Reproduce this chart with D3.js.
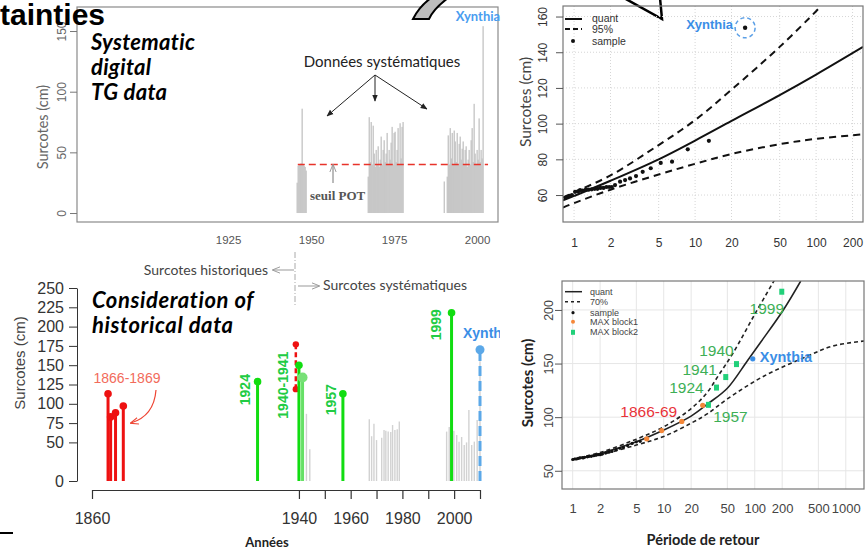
<!DOCTYPE html>
<html>
<head>
<meta charset="utf-8">
<script src="https://cdn.jsdelivr.net/npm/d3@7"></script>
<style>
  body { margin: 0; background: #fff; }
  svg text { font-family: "Liberation Sans", Arial, sans-serif; }
  .cal { font-family: Lato, "Open Sans", sans-serif; }
  .narrow { font-family: "Liberation Sans Narrow", "Liberation Sans", Arial, sans-serif; }
  .serif { font-family: "Liberation Serif", "DejaVu Serif", serif; }
</style>
</head>
<body>
<div id="fig"></div>
<script>
// ---------- data ----------
// panel A : systematic POT surges (one value per column, POT_STEP years apart)
const POT_START = [1945.8, 1967.2, 1990.1];
const POT_STEP = 0.3;
const POT_BLOCK1 = [25, 39, 40, 40, 41, 86, 40, 39, 38, 35];
const POT_BLOCK2 = [30, 79, 42, 75, 40, 72, 49, 38, 52, 40, 55, 38, 44, 63, 40, 52, 60, 42,
                    49, 66, 40, 52, 44, 58, 71, 40, 66, 67, 42, 52, 70, 40, 74, 45, 71, 75];
const POT_BLOCK3 = [26, 0, 0, 30, 64, 40, 70, 45, 66, 40, 68, 59, 42, 66, 40, 57, 63, 44, 53, 59,
                    40, 52, 55, 38, 44, 52, 40, 60, 70, 42, 90, 49, 40, 52, 44, 78, 42, 52, 45, 154];
const POT_THRESHOLD = 40;
const THRESHOLD_YEARS = [1946.0, 2003.3];
const A_XTICKS = [1925, 1950, 1975, 2000];
const A_YTICKS = [0, 50, 100, 150];

// panel B : return level plot, systematic data only
const B_QUANT_T = [0.81, 1, 2, 5, 10, 20, 50, 100, 244];
const B_QUANT = [57, 59.5, 68, 80, 90.5, 101.5, 116, 127.5, 143];
const B_UP_T = [0.81, 1, 2, 5, 10, 20, 50, 100, 110];
const B_UP = [58.5, 61.5, 71, 88, 102, 119, 143, 163, 166];
const B_LOW_T = [0.81, 1, 2, 5, 10, 20, 50, 100, 244];
const B_LOW = [53, 55.5, 63, 71.5, 77.5, 83, 88.5, 91.5, 94];
const B_SAMPLE_T = [0.85, 0.88, 0.92, 0.96, 1.02, 1.08, 1.12, 1.18, 1.25, 1.32, 1.4, 1.48, 1.56,
                    1.65, 1.75, 1.85, 1.95, 2.05, 2.18, 2.4, 2.64, 2.9, 3.25, 3.69, 4.3, 5.2, 6.45, 8.7, 13];
const B_SAMPLE = [58.5, 59, 59.5, 60, 61.8, 62, 62.8, 62.5, 63, 63, 63.2, 63.5, 63.5,
                  64, 64, 64.5, 64.5, 64.5, 65.6, 67.5, 68.4, 69.3, 70.6, 73, 75, 78, 78.7, 85.6, 90.4];
const B_XYNTHIA = [25.9, 153.7];
const B_XTICKS = [1, 2, 5, 10, 20, 50, 100, 200];
const B_YTICKS = [60, 80, 100, 120, 140, 160];
const B_LEGEND = ["quant", "95%", "sample"];

// panel C : historical + systematic annual maxima
const HIST_YEARS = [1866.2, 1867.2, 1869.1, 1872.1];
const HIST_VALUES = [113, 83, 88.5, 97];
const HIST_1940_YEAR = 1938.8;
const HIST_1940_RANGE = [119, 177];
const SYS_YEARS = [1924, 1940, 1941.4, 1957, 1999];
const SYS_VALUES = [128.7, 150, 134, 113, 218];
const SYS_LABELS = ["1924", "1940-1941", "", "1957", "1999"];
const XYN_YEAR = 2010;
const XYN_VALUE = 170;
const C_GRAY_YEARS = [1942.9, 1944.2, 1967.2, 1968.1, 1969.0, 1970.0, 1972.0, 1972.9, 1973.6, 1974.5,
                      1975.5, 1976.2, 1977.1, 1978.0, 1978.8, 1997.1, 1998.1, 1999.9, 2001.0, 2001.9,
                      2002.9, 2003.9, 2004.8, 2005.7, 2006.8, 2007.8, 2008.9, 2010.0];
const C_GRAY_VALUES = [87, 41, 80, 58, 74, 53, 56, 66, 65, 64,
                       63.5, 72.5, 66, 67, 77, 64, 70, 65, 59.6, 51,
                       57, 46.6, 50, 92, 46.6, 51, 79, 155];
const C_XTICKS = [1860, 1940, 1950, 1960, 1970, 1980, 1990, 2000, 2010];
const C_XLABELS = [1860, 1940, 1960, 1980, 2000];
const C_YTICKS = [0, 50, 75, 100, 125, 150, 175, 200, 225, 250];

// panel D : return level plot with historical blocks
const D_QUANT_T = [1, 2, 5, 10, 20, 30, 50, 82, 114, 206, 320];
const D_QUANT = [60.5, 66, 77, 88, 101, 112, 127, 152, 169, 200, 227];
const D_UP_T = [1, 2, 5, 10, 20, 30, 40, 58, 100, 165];
const D_UP = [61, 67, 79.5, 91, 108, 123, 139, 160, 196, 228];
const D_LOW_T = [1, 2, 5, 10, 20, 30, 50, 124, 372, 731, 1585];
const D_LOW = [60.5, 65, 74, 82, 94.4, 103, 117, 138, 156.6, 166.5, 171];
const D_SAMPLE_T = [1.0, 1.05, 1.1, 1.15, 1.2, 1.3, 1.35, 1.45, 1.5, 1.6, 1.7, 1.8, 1.9, 2.0, 2.1,
                    2.3, 2.5, 2.7, 3.0, 3.3, 3.6, 4.0, 4.5, 5.0, 5.5];
const D_SAMPLE = [60.5, 61, 61, 61.5, 62, 62, 62.5, 63, 63.5, 63.5, 64, 64.5, 65, 65, 65.5,
                  66.5, 67.5, 68, 69.5, 71, 72, 73.5, 75.5, 77, 77.5];
const D_BLOCK1_T = [6.5, 9.5, 15.8, 26.8];
const D_BLOCK1 = [79.8, 87.5, 96, 111];
const D_BLOCK2_T = [31, 38, 48, 63, 198];
const D_BLOCK2 = [111.5, 127.6, 137.4, 149.5, 217];
const D_BLOCK2_LABELS = ["1957", "1924", "1941", "1940", "1999"];
const D_XYNTHIA = [95, 154.4];
const D_XTICKS = [1, 2, 5, 10, 20, 50, 100, 200, 500, 1000];
const D_YTICKS = [50, 100, 150, 200];
const D_LEGEND = ["quant", "70%", "sample", "MAX block1", "MAX block2"];

// ---------- svg ----------
const svg = d3.select("#fig").append("svg")
  .attr("width", 865).attr("height", 549)
  .style("background", "#fff");

const defs = svg.append("defs");
defs.append("marker").attr("id", "headBlack")
  .attr("viewBox", "0 0 10 10").attr("refX", 9).attr("refY", 5)
  .attr("markerWidth", 7).attr("markerHeight", 7).attr("orient", "auto")
  .append("path").attr("d", "M0,1 L10,5 L0,9 Z").attr("fill", "#222");
defs.append("marker").attr("id", "headGray")
  .attr("viewBox", "0 0 10 10").attr("refX", 9).attr("refY", 5)
  .attr("markerWidth", 8).attr("markerHeight", 8).attr("orient", "auto")
  .append("path").attr("d", "M0,1 L10,5 L0,9").attr("fill", "none").attr("stroke", "#999").attr("stroke-width", 1.2);
defs.append("marker").attr("id", "headRed")
  .attr("viewBox", "0 0 10 10").attr("refX", 9).attr("refY", 5)
  .attr("markerWidth", 7).attr("markerHeight", 7).attr("orient", "auto")
  .append("path").attr("d", "M0,1 L10,5 L0,9").attr("fill", "none").attr("stroke", "#ee4433").attr("stroke-width", 1.4);
defs.append("clipPath").attr("id", "clipC")
  .append("rect").attr("x", 0).attr("y", 245).attr("width", 500).attr("height", 304);

// helper: rotated text
function vtext(g, x, y, txt) {
  return g.append("text")
    .attr("transform", "translate(" + x + "," + y + ") rotate(-90)")
    .attr("text-anchor", "middle").attr("dy", "0.35em").text(txt);
}

// ================= panel A =================
const xA = d3.scaleLinear().domain([1879.5, 2006.3]).range([77, 498]);
const yA = d3.scaleLinear().domain([-7.4, 169.8]).range([222, 7]);
const gA = svg.append("g");

const potBars = [];
[POT_BLOCK1, POT_BLOCK2, POT_BLOCK3].forEach((vals, b) => {
  vals.forEach((v, i) => potBars.push({ year: POT_START[b] + i * POT_STEP, v: v }));
});
gA.selectAll(".pot")
  .data(potBars.filter(d => d.v > 0))
  .enter().append("rect")
    .attr("x", d => xA(d.year) - 0.6)
    .attr("width", 1.3)
    .attr("y", d => yA(d.v))
    .attr("height", d => yA(0) - yA(d.v))
    .attr("fill", "#c3c3c3");

gA.append("line")
  .attr("x1", xA(THRESHOLD_YEARS[0])).attr("x2", xA(THRESHOLD_YEARS[1]))
  .attr("y1", yA(POT_THRESHOLD)).attr("y2", yA(POT_THRESHOLD))
  .attr("stroke", "#e8332a").attr("stroke-width", 1.6).attr("stroke-dasharray", "7,4");

gA.append("rect").attr("x", 77).attr("y", 7).attr("width", 421).attr("height", 215)
  .attr("fill", "none").attr("stroke", "#8a8a8a").attr("stroke-width", 1.2);

const axA = gA.append("g").attr("transform", "translate(77,0)")
  .call(d3.axisLeft(yA).tickValues(A_YTICKS).tickSize(7));
axA.select(".domain").remove();
axA.selectAll("line").attr("stroke", "#777");
axA.selectAll("text").attr("transform", "rotate(-90)").attr("x", 0).attr("y", -15)
  .attr("dy", "0.35em").style("text-anchor", "middle").attr("fill", "#666").attr("font-size", 12);

const axAx = gA.append("g").attr("transform", "translate(0,222)")
  .call(d3.axisBottom(xA).tickValues(A_XTICKS).tickFormat(d3.format("d")).tickSize(0));
axAx.select(".domain").remove();
axAx.selectAll("text").attr("y", 18).attr("dy", "0.35em").attr("fill", "#555").attr("font-size", 11.5);

vtext(gA, 43, 127, "Surcotes (cm)").attr("class", "cal").attr("font-size", 14.5).attr("fill", "#666");

gA.append("text").attr("x", 478).attr("y", 21).attr("text-anchor", "middle")
  .attr("class", "cal").attr("font-weight", "bold").attr("font-size", 13).attr("fill", "#4a9df0").text("Xynthia");

gA.append("text").attr("x", 382).attr("y", 67).attr("text-anchor", "middle")
  .attr("class", "cal").attr("font-size", 15).attr("fill", "#222").text("Données systématiques");
[[327, 116], [375, 101], [427, 109]].forEach(p => {
  gA.append("line").attr("x1", 375).attr("y1", 75).attr("x2", p[0]).attr("y2", p[1])
    .attr("stroke", "#222").attr("stroke-width", 1).attr("marker-end", "url(#headBlack)");
});

gA.append("line").attr("x1", 333).attr("y1", 183).attr("x2", 333).attr("y2", 165)
  .attr("stroke", "#777").attr("stroke-width", 1).attr("marker-end", "url(#headGray)");
gA.append("text").attr("x", 310).attr("y", 200).attr("class", "serif")
  .attr("font-weight", "bold").attr("font-size", 13).attr("fill", "#555").text("seuil POT");

["Systematic", "digital", "TG data"].forEach((t, i) => {
  gA.append("text").attr("x", 91).attr("y", 50 + i * 25)
    .attr("class", "cal").attr("font-style", "italic").attr("font-weight", "bold")
    .attr("font-size", 22).attr("letter-spacing", 0.3).attr("fill", "#000").text(t);
});

// title fragment and callout pieces
svg.append("text").attr("x", 0).attr("y", 25).attr("font-weight", "bold")
  .attr("font-size", 30).attr("fill", "#000").text("tainties");
svg.append("path").attr("d", "M413,19 C418,9 424,3 431,-2 L448,-2 C440,4 433,10 429,19 Z")
  .attr("fill", "#bdbdbd").attr("stroke", "#000").attr("stroke-width", 2);
svg.append("path").attr("d", "M624,-2 L662,19 L660,-2")
  .attr("fill", "none").attr("stroke", "#000").attr("stroke-width", 2.5);
svg.append("line").attr("x1", 0).attr("x2", 13).attr("y1", 533).attr("y2", 533)
  .attr("stroke", "#000").attr("stroke-width", 2);

// ================= panel B =================
const xB = d3.scaleLog().domain([0.81, 244]).range([563, 863]);
const yB = d3.scaleLinear().domain([44.9, 165.9]).range([222, 6]);
const gB = svg.append("g");
defs.append("clipPath").attr("id", "clipB")
  .append("rect").attr("x", 563).attr("y", 6).attr("width", 300).attr("height", 216);

B_XTICKS.forEach(t => gB.append("line").attr("x1", xB(t)).attr("x2", xB(t)).attr("y1", 6).attr("y2", 222)
  .attr("stroke", "#d6d6d6").attr("stroke-dasharray", "1,2"));
B_YTICKS.forEach(t => gB.append("line").attr("x1", 563).attr("x2", 863).attr("y1", yB(t)).attr("y2", yB(t))
  .attr("stroke", "#d6d6d6").attr("stroke-dasharray", "1,2"));

const lineB = d3.line().x(d => xB(d[0])).y(d => yB(d[1])).curve(d3.curveCatmullRom.alpha(0.5));
const curvesB = gB.append("g").attr("clip-path", "url(#clipB)");
curvesB.append("path").datum(d3.zip(B_QUANT_T, B_QUANT)).attr("d", lineB)
  .attr("fill", "none").attr("stroke", "#111").attr("stroke-width", 2);
[[B_UP_T, B_UP], [B_LOW_T, B_LOW]].forEach(s => {
  curvesB.append("path").datum(d3.zip(s[0], s[1])).attr("d", lineB)
    .attr("fill", "none").attr("stroke", "#111").attr("stroke-width", 2).attr("stroke-dasharray", "7,5");
});
gB.selectAll(".smp").data(d3.zip(B_SAMPLE_T, B_SAMPLE)).enter().append("circle")
  .attr("cx", d => xB(d[0])).attr("cy", d => yB(d[1])).attr("r", 2.1).attr("fill", "#111");
gB.append("circle").attr("cx", xB(B_XYNTHIA[0])).attr("cy", yB(B_XYNTHIA[1])).attr("r", 2.2).attr("fill", "#111");
gB.append("circle").attr("cx", xB(B_XYNTHIA[0])).attr("cy", yB(B_XYNTHIA[1])).attr("r", 10)
  .attr("fill", "none").attr("stroke", "#5b9fe6").attr("stroke-width", 1.5).attr("stroke-dasharray", "4,3");
gB.append("text").attr("x", xB(B_XYNTHIA[0]) - 12).attr("y", yB(B_XYNTHIA[1]) - 3).attr("dy", "0.35em")
  .attr("text-anchor", "end").attr("font-weight", "bold").attr("font-size", 13).attr("fill", "#3a8ee6").text("Xynthia");

gB.append("rect").attr("x", 563).attr("y", 6).attr("width", 300).attr("height", 216)
  .attr("fill", "none").attr("stroke", "#777").attr("stroke-width", 1.2);

const axB = gB.append("g").attr("transform", "translate(563,0)")
  .call(d3.axisLeft(yB).tickValues(B_YTICKS).tickSize(7));
axB.select(".domain").remove();
axB.selectAll("line").attr("stroke", "#555");
axB.selectAll("text").attr("transform", "rotate(-90)").attr("x", 0).attr("y", -20)
  .attr("dy", "0.35em").style("text-anchor", "middle").attr("fill", "#333").attr("font-size", 12);
const axBx = gB.append("g").attr("transform", "translate(0,222)")
  .call(d3.axisBottom(xB).tickValues(B_XTICKS).tickFormat(d3.format("d")).tickSize(0));
axBx.select(".domain").remove();
axBx.selectAll("text").attr("y", 21).attr("dy", "0.35em").attr("fill", "#333").attr("font-size", 12);

vtext(gB, 526, 102, "Surcotes (cm)").attr("class", "cal").attr("font-size", 15.5).attr("fill", "#444");

// legend B
const legB = gB.append("g");
legB.append("line").attr("x1", 565).attr("x2", 582).attr("y1", 19).attr("y2", 19).attr("stroke", "#111").attr("stroke-width", 2);
legB.append("line").attr("x1", 565).attr("x2", 582).attr("y1", 29).attr("y2", 29).attr("stroke", "#111").attr("stroke-width", 2).attr("stroke-dasharray", "5,3");
legB.append("circle").attr("cx", 573).attr("cy", 41).attr("r", 2).attr("fill", "#111");
B_LEGEND.forEach((t, i) => legB.append("text").attr("x", 592).attr("y", [18, 29, 41][i]).attr("dy", "0.35em")
  .attr("class", "narrow").attr("font-size", 10.5).attr("fill", "#333").text(t));

// ================= panel C =================
const xC = d3.scaleLinear().domain([1860, 2010]).range([92, 480]);
const yC = d3.scaleLinear().domain([0, 250]).range([481, 288]);
const gC = svg.append("g").attr("clip-path", "url(#clipC)");

gC.selectAll(".gbar").data(d3.zip(C_GRAY_YEARS, C_GRAY_VALUES)).enter().append("line")
  .attr("x1", d => xC(d[0])).attr("x2", d => xC(d[0]))
  .attr("y1", yC(0)).attr("y2", d => yC(d[1]))
  .attr("stroke", "#d2d2d2").attr("stroke-width", 1.4);

// historical (red)
gC.selectAll(".hist").data(d3.zip(HIST_YEARS, HIST_VALUES)).enter().append("line")
  .attr("x1", d => xC(d[0])).attr("x2", d => xC(d[0]))
  .attr("y1", yC(0)).attr("y2", d => yC(d[1]))
  .attr("stroke", "#ee1111").attr("stroke-width", 3);
gC.selectAll(".histpt").data(d3.zip(HIST_YEARS, HIST_VALUES)).enter().append("circle")
  .attr("cx", d => xC(d[0])).attr("cy", d => yC(d[1])).attr("r", 3.8).attr("fill", "#ee1111");
gC.append("line").attr("x1", xC(HIST_1940_YEAR)).attr("x2", xC(HIST_1940_YEAR))
  .attr("y1", yC(HIST_1940_RANGE[0])).attr("y2", yC(HIST_1940_RANGE[1]))
  .attr("stroke", "#ee1111").attr("stroke-width", 2.5).attr("stroke-dasharray", "5,3");
HIST_1940_RANGE.forEach(v => gC.append("circle").attr("cx", xC(HIST_1940_YEAR)).attr("cy", yC(v))
  .attr("r", 3.2).attr("fill", "#ee1111"));

// systematic maxima (green)
gC.selectAll(".sys").data(d3.zip(SYS_YEARS, SYS_VALUES)).enter().append("line")
  .attr("x1", d => xC(d[0])).attr("x2", d => xC(d[0]))
  .attr("y1", yC(0)).attr("y2", d => yC(d[1]))
  .attr("stroke", d => d[0] === 1941.4 ? "#66e066" : "#11dd11").attr("stroke-width", 3);
gC.selectAll(".syspt").data(d3.zip(SYS_YEARS, SYS_VALUES)).enter().append("circle")
  .attr("cx", d => xC(d[0])).attr("cy", d => yC(d[1]))
  .attr("r", d => d[0] === 1941.4 ? 5 : 3.8)
  .attr("fill", d => d[0] === 1941.4 ? "#77e077" : "#11dd11");
const sysLabelOff = [[-12, 8], [-16, 20], [0, 0], [-12, 6], [-15, 12]];
SYS_LABELS.forEach((t, i) => {
  if (!t) return;
  vtext(gC, xC(SYS_YEARS[i]) + sysLabelOff[i][0], yC(SYS_VALUES[i]) + sysLabelOff[i][1], t)
    .attr("font-weight", "bold").attr("font-size", 14).attr("fill", "#22cc44");
});

// Xynthia (blue dashed)
gC.append("line").attr("x1", xC(XYN_YEAR)).attr("x2", xC(XYN_YEAR))
  .attr("y1", yC(0)).attr("y2", yC(XYN_VALUE))
  .attr("stroke", "#5ba8e8").attr("stroke-width", 3).attr("stroke-dasharray", "10,5");
gC.append("circle").attr("cx", xC(XYN_YEAR)).attr("cy", yC(XYN_VALUE)).attr("r", 4.5).attr("fill", "#5ba8e8");
gC.append("text").attr("x", xC(XYN_YEAR) - 17).attr("y", yC(XYN_VALUE) - 17).attr("dy", "0.35em")
  .attr("font-weight", "bold").attr("font-size", 14).attr("fill", "#3a8ee6").text("Xynthia");

// 1866-1869 label + curved arrow
gC.append("text").attr("x", 127).attr("y", 378).attr("dy", "0.35em").attr("text-anchor", "middle")
  .attr("font-size", 14).attr("fill", "#f26b5b").text("1866-1869");
gC.append("path").attr("d", "M156,390 Q154,416 131,423").attr("fill", "none")
  .attr("stroke", "#ee4433").attr("stroke-width", 1.2).attr("marker-end", "url(#headRed)");

// axes C
const axCy = gC.append("g").attr("transform", "translate(77,0)")
  .call(d3.axisLeft(yC).tickValues(C_YTICKS).tickSize(8).tickSizeOuter(0).tickPadding(5));
axCy.selectAll("path,line").attr("stroke", "#333");
axCy.selectAll("text").attr("class", "narrow").attr("font-size", 16).attr("fill", "#333");
const axCx = gC.append("g").attr("transform", "translate(0,490)")
  .call(d3.axisBottom(xC).tickValues(C_XTICKS).tickSize(9).tickSizeOuter(0)
    .tickFormat(d => C_XLABELS.includes(d) ? d : ""));
axCx.selectAll("path,line").attr("stroke", "#333").attr("stroke-width", 1.2);
axCx.selectAll("text").attr("y", 28).attr("dy", "0.35em").attr("class", "narrow")
  .attr("font-size", 16).attr("fill", "#333");

vtext(gC, 20, 363, "Surcotes (cm)").attr("font-size", 15).attr("fill", "#444");
gC.append("text").attr("x", 267).attr("y", 547).attr("text-anchor", "middle")
  .attr("class", "cal").attr("font-weight", "bold").attr("font-size", 13).attr("fill", "#222").text("Années");

["Consideration of", "historical data"].forEach((t, i) => {
  gC.append("text").attr("x", 92).attr("y", 308 + i * 25)
    .attr("class", "cal").attr("font-style", "italic").attr("font-weight", "bold")
    .attr("font-size", 22).attr("letter-spacing", 0.6).attr("fill", "#000").text(t);
});

// historical / systematic separator
gC.append("line").attr("x1", 295).attr("x2", 295).attr("y1", 252).attr("y2", 306)
  .attr("stroke", "#aaa").attr("stroke-width", 1).attr("stroke-dasharray", "6,2,1,2");
gC.append("line").attr("x1", 294).attr("x2", 273).attr("y1", 270).attr("y2", 270)
  .attr("stroke", "#999").attr("stroke-width", 1).attr("marker-end", "url(#headGray)");
gC.append("line").attr("x1", 298).attr("x2", 319).attr("y1", 286).attr("y2", 286)
  .attr("stroke", "#999").attr("stroke-width", 1).attr("marker-end", "url(#headGray)");
gC.append("text").attr("x", 268).attr("y", 270).attr("dy", "0.35em").attr("text-anchor", "end")
  .attr("class", "cal").attr("font-size", 14).attr("fill", "#444").text("Surcotes historiques");
gC.append("text").attr("x", 323).attr("y", 285).attr("dy", "0.35em")
  .attr("class", "cal").attr("font-size", 14).attr("fill", "#444").text("Surcotes systématiques");

// ================= panel D =================
const xD = d3.scaleLog().domain([0.763, 1585]).range([562, 864]);
const yD = d3.scaleLinear().domain([33, 227]).range([489, 281]);
const gD = svg.append("g");
defs.append("clipPath").attr("id", "clipD")
  .append("rect").attr("x", 562).attr("y", 281).attr("width", 302).attr("height", 208);

D_XTICKS.forEach(t => gD.append("line").attr("x1", xD(t)).attr("x2", xD(t)).attr("y1", 281).attr("y2", 489)
  .attr("stroke", "#e6e6e6"));
D_YTICKS.forEach(t => gD.append("line").attr("x1", 562).attr("x2", 864).attr("y1", yD(t)).attr("y2", yD(t))
  .attr("stroke", "#e6e6e6"));

const lineD = d3.line().x(d => xD(d[0])).y(d => yD(d[1])).curve(d3.curveCatmullRom.alpha(0.5));
const curvesD = gD.append("g").attr("clip-path", "url(#clipD)");
curvesD.append("path").datum(d3.zip(D_QUANT_T, D_QUANT)).attr("d", lineD)
  .attr("fill", "none").attr("stroke", "#222").attr("stroke-width", 1.6);
[[D_UP_T, D_UP], [D_LOW_T, D_LOW]].forEach(s => {
  curvesD.append("path").datum(d3.zip(s[0], s[1])).attr("d", lineD)
    .attr("fill", "none").attr("stroke", "#222").attr("stroke-width", 1.6).attr("stroke-dasharray", "4,3");
});
curvesD.selectAll(".dsmp").data(d3.zip(D_SAMPLE_T, D_SAMPLE)).enter().append("circle")
  .attr("cx", d => xD(d[0])).attr("cy", d => yD(d[1])).attr("r", 1.6).attr("fill", "#111");
curvesD.selectAll(".blk1").data(d3.zip(D_BLOCK1_T, D_BLOCK1)).enter().append("circle")
  .attr("cx", d => xD(d[0])).attr("cy", d => yD(d[1])).attr("r", 2.6).attr("fill", "#f5883a");
curvesD.selectAll(".blk2").data(d3.zip(D_BLOCK2_T, D_BLOCK2)).enter().append("rect")
  .attr("x", d => xD(d[0]) - 2.5).attr("y", d => yD(d[1]) - 3).attr("width", 5).attr("height", 6)
  .attr("fill", "#22d07a");
curvesD.append("circle").attr("cx", xD(D_XYNTHIA[0])).attr("cy", yD(D_XYNTHIA[1])).attr("r", 2.6).attr("fill", "#3a8ee6");

const blk2Off = [[22, 12], [-30, 0], [-26, -7], [-20, -14], [-15, 17]];
D_BLOCK2_LABELS.forEach((t, i) => {
  gD.append("text").attr("x", xD(D_BLOCK2_T[i]) + blk2Off[i][0]).attr("y", yD(D_BLOCK2[i]) + blk2Off[i][1])
    .attr("dy", "0.35em").attr("text-anchor", "middle").attr("font-size", 15.5).attr("fill", "#3daf55").text(t);
});
gD.append("text").attr("x", xD(D_BLOCK1_T[2]) - 33).attr("y", yD(D_BLOCK1[2]) - 10)
  .attr("dy", "0.35em").attr("text-anchor", "middle").attr("font-size", 15.5).attr("fill", "#e8333a").text("1866-69");
gD.append("text").attr("x", xD(D_XYNTHIA[0]) + 7).attr("y", yD(D_XYNTHIA[1]) - 2)
  .attr("dy", "0.35em").attr("font-weight", "bold").attr("font-size", 14.5).attr("fill", "#3a8ee6").text("Xynthia");

gD.append("rect").attr("x", 562).attr("y", 281).attr("width", 302).attr("height", 208)
  .attr("fill", "none").attr("stroke", "#777").attr("stroke-width", 1.2);

const axD = gD.append("g").attr("transform", "translate(562,0)")
  .call(d3.axisLeft(yD).tickValues(D_YTICKS).tickSize(7));
axD.select(".domain").remove();
axD.selectAll("line").attr("stroke", "#555");
axD.selectAll("text").attr("transform", "rotate(-90)").attr("x", 0).attr("y", -13)
  .attr("dy", "0.35em").style("text-anchor", "middle").attr("fill", "#444").attr("font-size", 12.5);
const axDx = gD.append("g").attr("transform", "translate(0,489)")
  .call(d3.axisBottom(xD).tickValues(D_XTICKS).tickFormat(d3.format("d")).tickSize(0));
axDx.select(".domain").remove();
axDx.selectAll("text").attr("y", 19).attr("dy", "0.35em").attr("fill", "#444").attr("font-size", 13);

vtext(gD, 528, 383, "Surcotes (cm)").attr("class", "cal").attr("font-weight", "bold").attr("font-size", 15).attr("fill", "#222");
gD.append("text").attr("x", 703).attr("y", 545).attr("text-anchor", "middle")
  .attr("class", "cal").attr("font-weight", "bold").attr("font-size", 14.5).attr("fill", "#222").text("Période de retour");

// legend D
const legD = gD.append("g");
const legY = [291.7, 301.7, 312.7, 321.7, 332.3];
legD.append("line").attr("x1", 565).attr("x2", 582).attr("y1", legY[0]).attr("y2", legY[0]).attr("stroke", "#222").attr("stroke-width", 1.5);
legD.append("line").attr("x1", 565).attr("x2", 582).attr("y1", legY[1]).attr("y2", legY[1]).attr("stroke", "#222").attr("stroke-width", 1.5).attr("stroke-dasharray", "3,3");
legD.append("circle").attr("cx", 573).attr("cy", legY[2]).attr("r", 1.6).attr("fill", "#111");
legD.append("circle").attr("cx", 573).attr("cy", legY[3]).attr("r", 2).attr("fill", "#f5883a");
legD.append("rect").attr("x", 571).attr("y", legY[4] - 2.5).attr("width", 4).attr("height", 5).attr("fill", "#22d07a");
D_LEGEND.forEach((t, i) => legD.append("text").attr("x", 590).attr("y", legY[i]).attr("dy", "0.35em")
  .attr("class", "narrow").attr("font-size", 9).attr("fill", "#444").text(t));
</script>
</body>
</html>
